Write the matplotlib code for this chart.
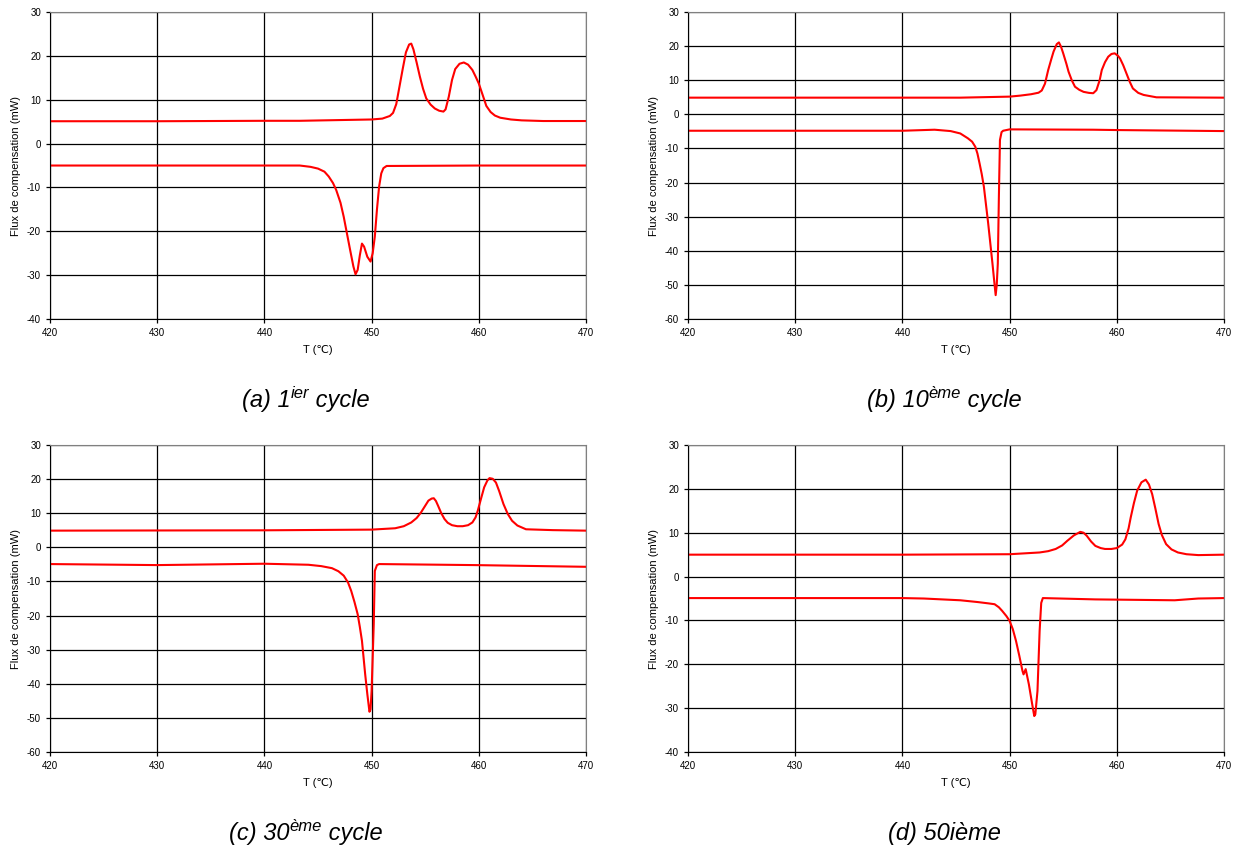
import matplotlib
matplotlib.use("Agg")
import matplotlib.pyplot as plt

plt.rcParams['font.family'] = ['Liberation Sans', 'DejaVu Sans']
plt.rcParams['axes.unicode_minus'] = False

# (a) 1er cycle
a_up_T = [420, 430, 440, 443.3, 450, 451.0, 451.7, 452.0, 452.3, 452.6, 452.9, 453.2, 453.5, 453.7,
          453.9, 454.2, 454.5, 454.8, 455.1, 455.5, 455.9, 456.3, 456.7, 456.9, 457.2, 457.5, 457.8,
          458.2, 458.6, 459.0, 459.4, 459.7, 460.0, 460.4, 460.7, 461.1, 461.5, 462.0, 463.0, 464.0,
          466.0, 470]
a_up_V = [5.1, 5.1, 5.2, 5.2, 5.5, 5.7, 6.3, 7.0, 9.0, 13.0, 17.0, 20.8, 22.6, 22.8,
          21.5, 18.5, 15.3, 12.5, 10.3, 8.9, 8.0, 7.5, 7.3, 7.8, 10.7, 14.5, 17.0,
          18.2, 18.5, 18.0, 16.8, 15.3, 13.7, 10.8, 8.6, 7.2, 6.4, 5.9, 5.5, 5.3,
          5.15, 5.15]
a_lo_T = [420, 430, 440, 443.3, 444.3, 445.0, 445.6, 446.0, 446.4, 446.7, 447.1, 447.4, 447.7,
          448.0, 448.3, 448.5, 448.7, 448.9, 449.1, 449.3, 449.6, 449.9, 450.1, 450.3, 450.5,
          450.7, 450.9, 451.1, 451.4, 460, 470]
a_lo_V = [-5.0, -5.0, -5.0, -5.0, -5.3, -5.7, -6.4, -7.5, -9.0, -10.6, -13.5, -16.7, -20.5,
          -24.3, -28.0, -29.8, -28.8, -25.5, -22.8, -23.5, -25.8, -26.9, -25.0, -21.2, -15.0,
          -9.8, -6.8, -5.6, -5.1, -5.0, -5.0]

# (b) 10eme cycle
b_up_T = [420, 440, 445.4, 450, 451.0, 452.0, 452.7, 453.0, 453.3, 453.6, 453.9, 454.1, 454.4,
          454.6, 454.8, 455.0, 455.3, 455.5, 455.8, 456.1, 456.5, 456.9, 457.4, 457.8, 458.1,
          458.4, 458.6, 458.9, 459.2, 459.5, 459.8, 460.1, 460.3, 460.6, 460.9, 461.2, 461.5,
          462.0, 462.5, 463.7, 470]
b_up_V = [4.9, 4.9, 4.9, 5.2, 5.5, 5.9, 6.35, 7.0, 9.0, 13.0, 16.3, 18.4, 20.6,
          21.1, 19.8, 17.9, 14.8, 12.5, 10.0, 8.1, 7.2, 6.6, 6.3, 6.2, 7.1,
          10.0, 13.0, 15.3, 16.9, 17.7, 17.9, 17.2, 16.4, 14.4, 12.0, 9.6, 7.6,
          6.3, 5.7, 5.0, 4.9]
b_lo_T = [420, 440, 443, 444.5, 445.4, 446.1, 446.5, 446.8, 447.0, 447.2, 447.4, 447.6, 448.0,
          448.4, 448.6, 448.7, 448.8, 448.9, 449.0, 449.1, 449.25, 449.4, 450, 457.8, 460, 470]
b_lo_V = [-4.8, -4.8, -4.5, -4.9, -5.6, -7.0, -8.0, -9.5, -11.5, -14.4, -17.5, -21.2, -31.9,
          -43.7, -50.0, -53.0, -50.0, -43.7, -24.1, -7.5, -5.2, -4.8, -4.4, -4.5, -4.6, -4.9]

# (c) 30eme cycle
c_up_T = [420, 440, 450, 452.2, 453.0, 453.7, 454.2, 454.6, 455.0, 455.3, 455.6, 455.8, 456.0,
          456.2, 456.5, 456.8, 457.1, 457.5, 458.0, 458.5, 459.0, 459.4, 459.7, 459.9, 460.2,
          460.5, 460.8, 461.0, 461.3, 461.6, 461.9, 462.3, 462.7, 463.1, 463.6, 464.4, 466.9, 470]
c_up_V = [4.9, 5.0, 5.2, 5.6, 6.2, 7.3, 8.6, 10.2, 12.2, 13.7, 14.3, 14.4, 13.6,
          12.2, 10.0, 8.3, 7.2, 6.5, 6.2, 6.2, 6.5, 7.3, 8.8, 10.7, 14.2,
          17.6, 19.6, 20.3, 20.1, 19.0, 16.5, 12.7, 9.8, 7.8, 6.4, 5.3, 5.05, 4.9]
c_lo_T = [420, 430, 440, 444.1, 445.3, 446.3, 446.9, 447.4, 447.8, 448.1, 448.4, 448.7, 448.9,
          449.1, 449.4, 449.6, 449.8, 449.9, 450.0, 450.2, 450.3, 450.5, 450.7, 459.6, 470]
c_lo_V = [-4.9, -5.2, -4.8, -5.1, -5.5, -6.1, -7.0, -8.3, -10.3, -12.8, -16.0, -19.6, -23.3,
          -27.4, -37.2, -43.0, -48.2, -47.5, -42.1, -22.5, -6.9, -5.2, -4.9, -5.2, -5.7]

# (d) 50eme cycle
d_up_T = [420, 440, 450, 452.8, 453.6, 454.3, 454.9, 455.4, 456.0, 456.6, 456.9, 457.2, 457.6,
          458.0, 458.5, 458.9, 459.5, 460.0, 460.5, 460.8, 461.1, 461.3, 461.6, 461.9, 462.3,
          462.7, 463.0, 463.3, 463.6, 463.9, 464.2, 464.6, 465.1, 465.7, 466.5, 467.6, 470]
d_up_V = [5.0, 5.0, 5.1, 5.5, 5.8, 6.3, 7.1, 8.2, 9.4, 10.2, 10.0, 9.3, 8.0,
          7.0, 6.5, 6.3, 6.3, 6.5, 7.3, 8.5, 11.0, 13.5, 16.8, 19.6, 21.5,
          22.1, 21.0, 18.8, 15.5, 12.0, 9.5, 7.4, 6.2, 5.5, 5.1, 4.9, 5.0]
d_lo_T = [420, 440, 442, 445.4, 447, 448.0, 448.6, 449.0, 449.3, 449.7, 450.0, 450.3, 450.6,
          450.9, 451.2, 451.3, 451.5, 451.8, 452.1, 452.3, 452.4, 452.6, 452.8, 452.95, 453.1,
          458.0, 465.4, 467.6, 470]
d_lo_V = [-4.9, -4.9, -5.0, -5.4, -5.8, -6.1, -6.3, -7.0, -7.8, -9.0, -10.1, -12.0, -14.7,
          -18.0, -21.5, -22.3, -21.1, -24.6, -29.0, -31.8, -31.4, -26.1, -12.4, -6.0, -4.9,
          -5.2, -5.4, -5.0, -4.9]

captions = [
    [("(a) 1", 17, 0), ("ier", 12, 9), (" cycle", 17, 0)],
    [("(b) 10", 17, 0), ("ème", 12, 9), (" cycle", 17, 0)],
    [("(c) 30", 17, 0), ("ème", 12, 9), (" cycle", 17, 0)],
    [("(d) 50ième", 17, 0)],
]

panels = [
    ([0.0403, 0.6238, 0.4319, 0.362], (-40, 30), a_up_T, a_up_V, a_lo_T, a_lo_V),
    ([0.5544, 0.6238, 0.4319, 0.362], (-60, 30), b_up_T, b_up_V, b_lo_T, b_lo_V),
    ([0.0403, 0.1132, 0.4319, 0.362], (-60, 30), c_up_T, c_up_V, c_lo_T, c_lo_V),
    ([0.5544, 0.1132, 0.4319, 0.362], (-40, 30), d_up_T, d_up_V, d_lo_T, d_lo_V),
]

W, H = 1241, 848
fig = plt.figure(figsize=(W / 100, H / 100), dpi=100)
renderer = fig.canvas.get_renderer()

for (rect, ylim, ut, uv, lt, lv), parts in zip(panels, captions):
    ax = fig.add_axes(rect)
    ax.plot(ut, uv, color='red', lw=1.5)
    ax.plot(lt, lv, color='red', lw=1.5)
    ax.set_xlim(420, 470)
    ax.set_ylim(*ylim)
    ax.set_xticks(range(420, 471, 10))
    ax.set_yticks(range(ylim[0], ylim[1] + 1, 10))
    ax.grid(True, color='black', lw=0.9)
    ax.tick_params(direction='out', length=3, labelsize=7, width=0.9)
    for s in ['top', 'right']:
        ax.spines[s].set_color('#808080')
    ax.set_xlabel("T (℃)", fontsize=8, labelpad=5)
    ax.set_ylabel("Flux de compensation (mW)", fontsize=8, labelpad=4)

    # caption, built piece by piece so the superscript stays italic
    texts = []
    for s, size, dy in parts:
        t = fig.text(0, 0, s, fontsize=size, style='italic', ha='left', va='baseline')
        texts.append((t, dy, t.get_window_extent(renderer).width))
    total = sum(w for _, _, w in texts)
    xc = (rect[0] + rect[2] / 2) * W - 12
    yb = (rect[1] - 0.095) * H - 7
    x = xc - total / 2
    for t, dy, w in texts:
        t.set_position((x / W, (yb + dy) / H))
        x += w

fig.savefig("out.png", dpi=100)
